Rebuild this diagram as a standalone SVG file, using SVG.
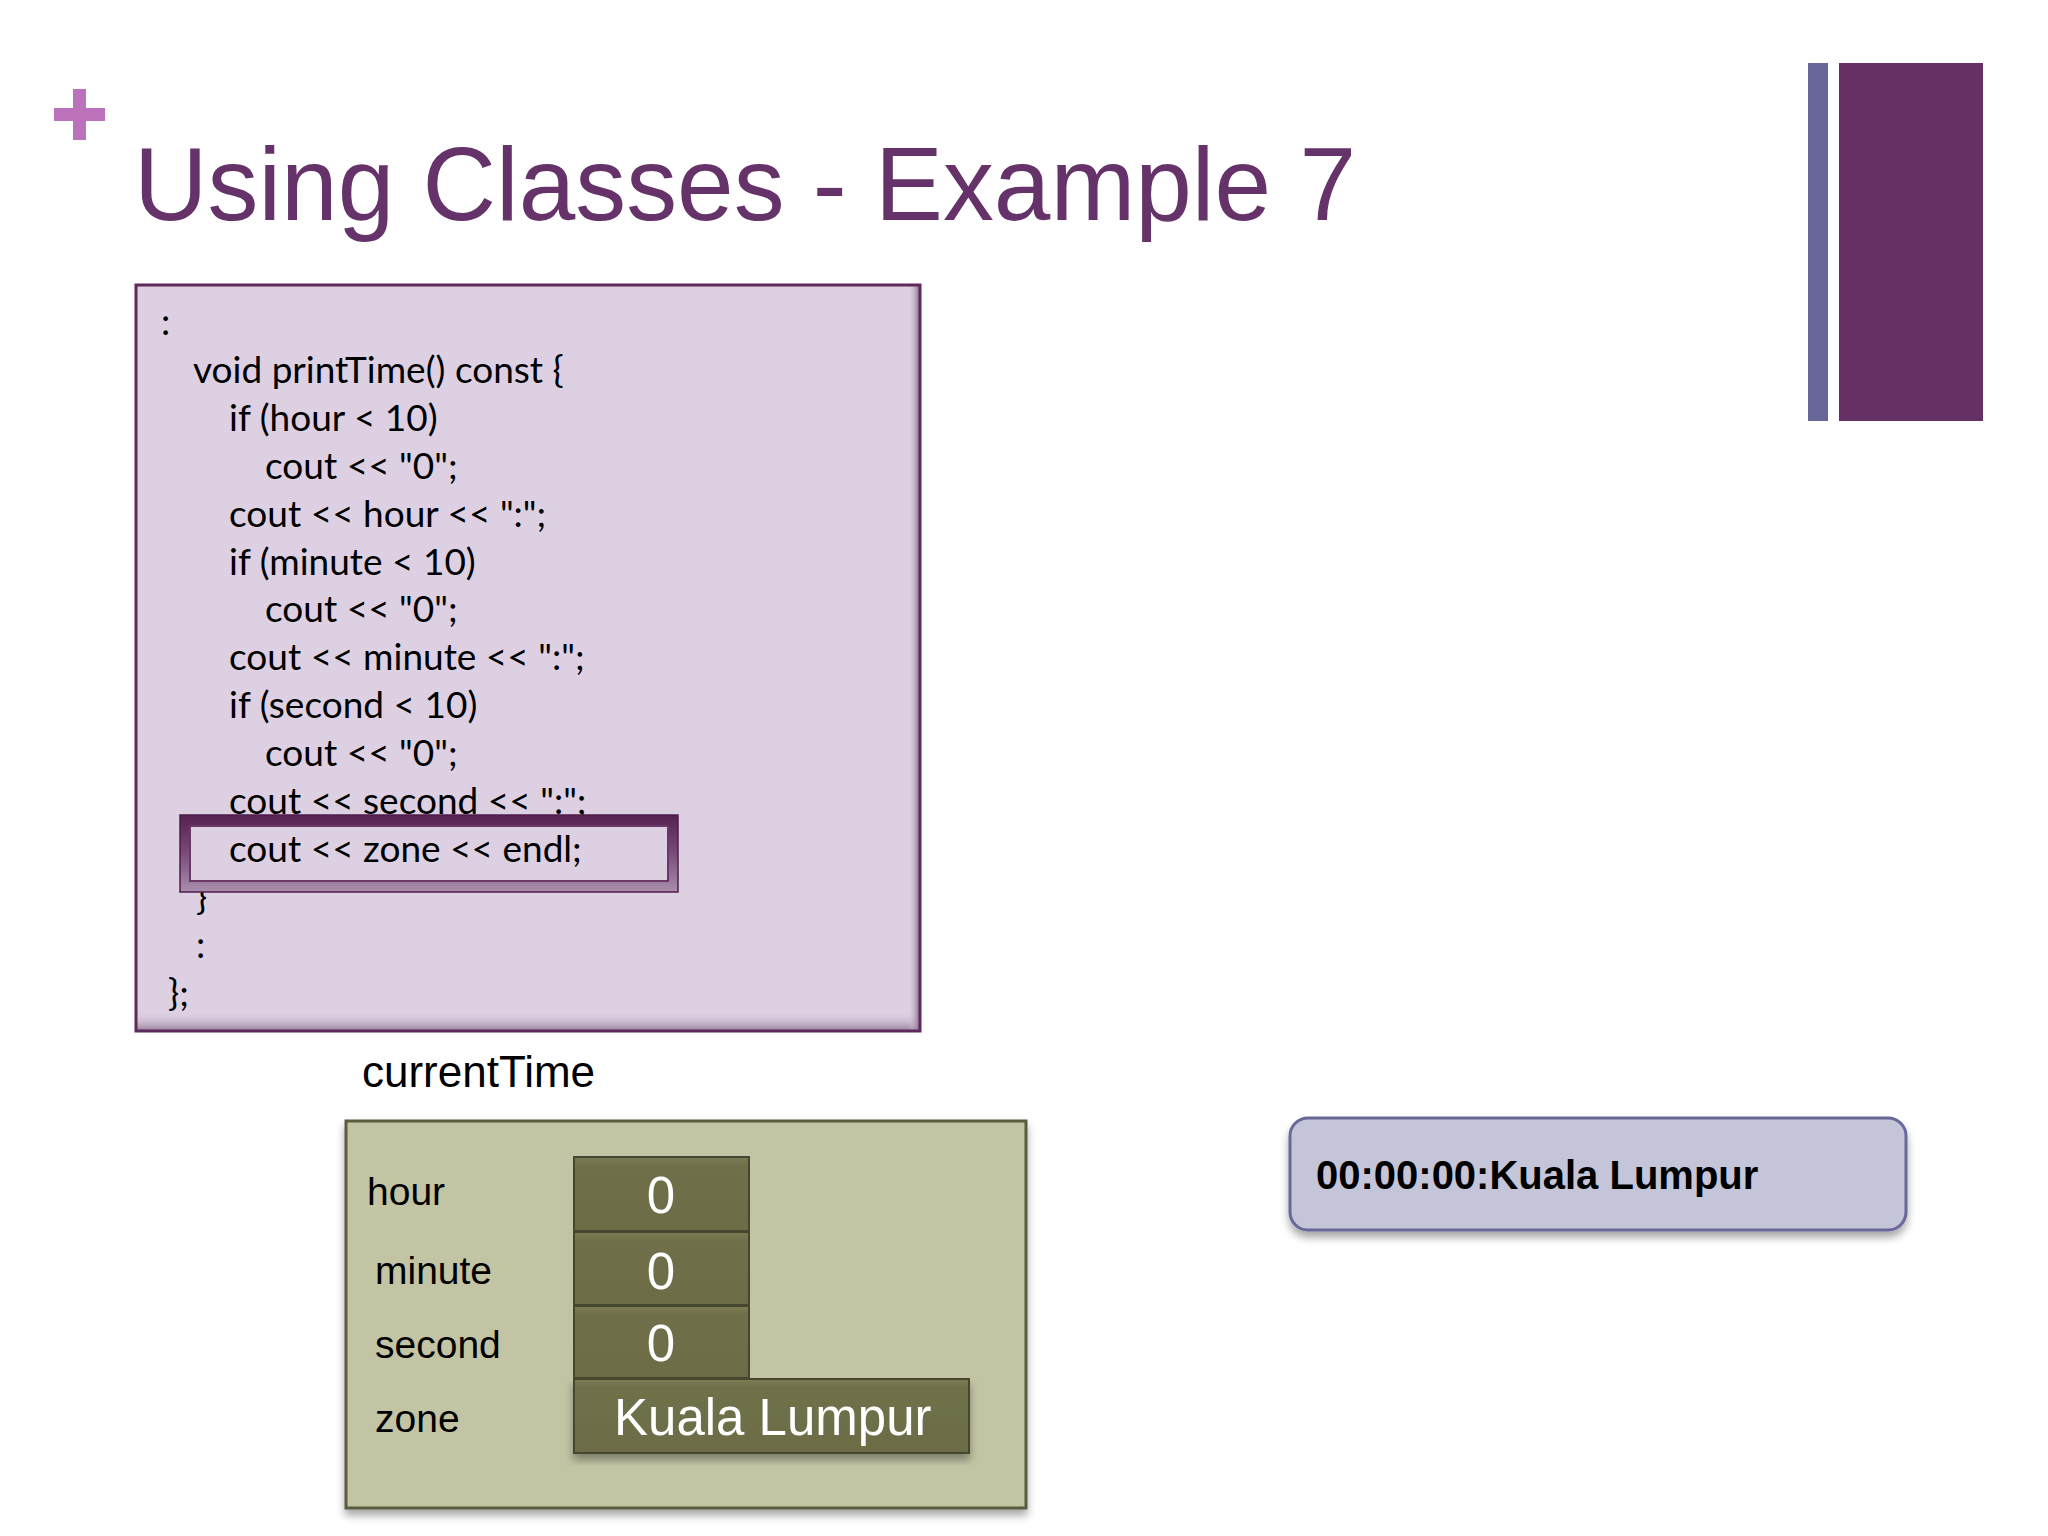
<svg xmlns="http://www.w3.org/2000/svg" width="2048" height="1536" viewBox="0 0 2048 1536">
<defs>
<style>
.code{font-family:Lato,"Open Sans","Liberation Sans",sans-serif;font-size:37px;fill:#000}
.lbl{font-family:"Liberation Sans",Arial,sans-serif;font-size:39px;fill:#000}
.val{font-family:"Liberation Sans",Arial,sans-serif;font-size:51px;fill:#fff}
.cell{fill:url(#cellGrad);stroke:#46472f;stroke-width:2}
</style>
<linearGradient id="frameGrad" x1="0" y1="0" x2="0" y2="1">
<stop offset="0" stop-color="#55204f"/>
<stop offset="0.5" stop-color="#7a4c78"/>
<stop offset="1" stop-color="#a98ead"/>
</linearGradient>
<linearGradient id="cellGrad" x1="0" y1="0" x2="0" y2="1">
<stop offset="0" stop-color="#7c7d55"/>
<stop offset="0.12" stop-color="#6f7049"/>
<stop offset="1" stop-color="#6c6d46"/>
</linearGradient>
<linearGradient id="codeBottom" x1="0" y1="0" x2="0" y2="1">
<stop offset="0" stop-color="#dcd0e2" stop-opacity="0"/>
<stop offset="1" stop-color="#9c84a0"/>
</linearGradient>
<linearGradient id="codeRight" x1="0" y1="0" x2="1" y2="0">
<stop offset="0" stop-color="#dcd0e2" stop-opacity="0"/>
<stop offset="1" stop-color="#8f7494"/>
</linearGradient>
<filter id="shadow" x="-5%" y="-5%" width="110%" height="120%">
<feGaussianBlur in="SourceAlpha" stdDeviation="4"/>
<feOffset dx="0" dy="6" result="b"/>
<feComponentTransfer><feFuncA type="linear" slope="0.35"/></feComponentTransfer>
<feMerge><feMergeNode/><feMergeNode in="SourceGraphic"/></feMerge>
</filter>
</defs>
<rect x="0" y="0" width="2048" height="1536" fill="#ffffff"/>

<g id="plus">
<rect x="73" y="89" width="13" height="51" fill="#bb72bb"/>
<rect x="54" y="108" width="51" height="13" fill="#bb72bb"/>
</g>

<g id="title">
<text x="134" y="220" font-family="'Liberation Sans',Arial,sans-serif" font-size="104" fill="#66326a" textLength="1222" lengthAdjust="spacingAndGlyphs">Using Classes - Example 7</text>
</g>

<g id="side-bars">
<rect x="1808" y="63" width="20" height="358" fill="#67679a"/>
<rect x="1839" y="63" width="144" height="358" fill="#673065"/>
</g>

<g id="code-box">
<rect x="136" y="285" width="784" height="746" fill="#dcd0e2"/>
<rect x="137" y="1012" width="782" height="18" fill="url(#codeBottom)"/>
<rect x="908" y="286" width="11" height="744" fill="url(#codeRight)"/>
<rect x="136" y="285" width="784" height="746" fill="none" stroke="#5e2a5c" stroke-width="3"/>
<text class="code" x="161" y="335">:</text>
<text class="code" x="193" y="383">void printTime() const {</text>
<text class="code" x="229" y="431">if (hour &lt; 10)</text>
<text class="code" x="265" y="479">cout &lt;&lt; "0";</text>
<text class="code" x="229" y="527">cout &lt;&lt; hour &lt;&lt; ":";</text>
<text class="code" x="229" y="575">if (minute &lt; 10)</text>
<text class="code" x="265" y="622">cout &lt;&lt; "0";</text>
<text class="code" x="229" y="670">cout &lt;&lt; minute &lt;&lt; ":";</text>
<text class="code" x="229" y="718">if (second &lt; 10)</text>
<text class="code" x="265" y="766">cout &lt;&lt; "0";</text>
<text class="code" x="229" y="814">cout &lt;&lt; second &lt;&lt; ":";</text>
<text class="code" x="196" y="910">}</text>
<text class="code" x="196" y="958">:</text>
<text class="code" x="168" y="1006">};</text>
</g>

<g id="highlight">
<rect x="180" y="815" width="498" height="77" fill="url(#frameGrad)" stroke="#4f1c4c" stroke-width="1.5"/>
<rect x="190" y="826" width="478" height="55" fill="#dcd0e2" stroke="#6a3868" stroke-width="2"/>
<text class="code" x="229" y="862">cout &lt;&lt; zone &lt;&lt; endl;</text>
</g>

<g id="label-currentTime">
<text x="362" y="1087" font-family="'Liberation Sans',Arial,sans-serif" font-size="44" fill="#000">currentTime</text>
</g>

<g id="object-currentTime">
<rect x="346" y="1121" width="680" height="387" fill="#c2c4a4" stroke="#5a5b3c" stroke-width="3" filter="url(#shadow)"/>
<text class="lbl" x="367" y="1205">hour</text>
<text class="lbl" x="375" y="1284">minute</text>
<text class="lbl" x="375" y="1358">second</text>
<text class="lbl" x="375" y="1432">zone</text>
<g id="cell-hour"><rect class="cell" x="574" y="1157" width="175" height="74"/><text class="val" x="661" y="1213" text-anchor="middle">0</text></g>
<g id="cell-minute"><rect class="cell" x="574" y="1232" width="175" height="73"/><text class="val" x="661" y="1289" text-anchor="middle">0</text></g>
<g id="cell-second"><rect class="cell" x="574" y="1306" width="175" height="72"/><text class="val" x="661" y="1361" text-anchor="middle">0</text></g>
<g id="cell-zone"><rect class="cell" x="574" y="1379" width="395" height="74" filter="url(#shadow)"/><text class="val" x="614" y="1435">Kuala Lumpur</text></g>
</g>

<g id="output">
<rect x="1290" y="1118" width="616" height="112" rx="18" ry="18" fill="#c5c5d9" stroke="#67679a" stroke-width="3" filter="url(#shadow)"/>
<text x="1316" y="1189" font-family="'Liberation Sans',Arial,sans-serif" font-weight="bold" font-size="40" fill="#000">00:00:00:Kuala Lumpur</text>
</g>

<g id="connectors"/>
</svg>
